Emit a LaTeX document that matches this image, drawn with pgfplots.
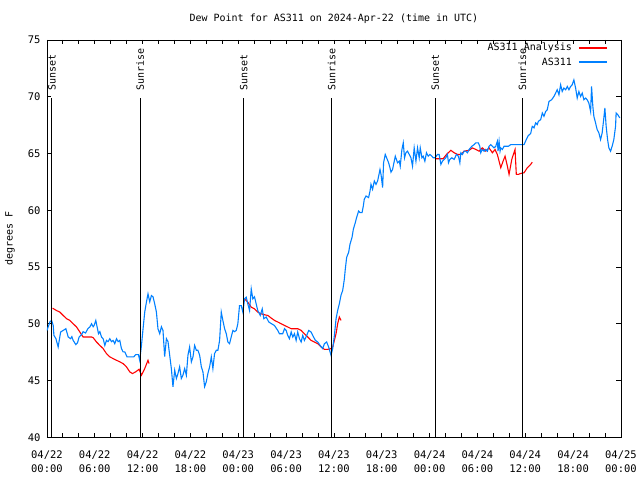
\documentclass[border=0pt]{standalone}
\usepackage{pgfplots}
\pgfplotsset{compat=1.18}
\usepackage{pgfplotstable}
\usepackage{fontspec}
\setmainfont{DejaVu Sans Mono}
\definecolor{gpblue}{RGB}{0,128,255}
\definecolor{gpred}{RGB}{255,0,0}

\pgfplotstableread{
h v
0.00 49.40
0.38 50.17
0.59 50.29
0.79 49.85
0.88 48.97
1.13 48.68
1.41 47.95
1.72 49.27
2.04 49.41
2.38 49.56
2.67 48.83
2.97 48.68
3.13 48.86
3.29 48.53
3.63 48.16
3.84 48.33
4.04 48.83
4.34 49.03
4.54 49.30
4.85 49.18
5.13 49.56
5.38 49.71
5.60 50.00
5.80 49.73
5.92 49.85
6.13 50.29
6.30 49.71
6.47 49.12
6.64 49.30
6.85 48.83
7.05 48.68
7.26 48.09
7.47 48.53
7.67 48.42
7.89 48.68
8.10 48.42
8.30 48.53
8.51 48.24
8.73 48.68
8.93 48.42
9.14 48.53
9.35 47.81
9.55 47.52
9.77 47.52
10.05 47.08
10.60 47.08
10.89 47.08
11.14 47.28
11.48 47.28
11.64 46.78
11.86 48.09
12.06 49.56
12.27 51.02
12.48 51.90
12.68 52.63
12.90 51.93
13.11 52.48
13.31 52.37
13.52 51.75
13.73 51.05
13.93 49.56
14.15 49.12
14.36 49.73
14.56 49.41
14.77 47.10
14.99 48.68
15.19 48.42
15.40 47.22
15.61 46.05
15.81 44.45
16.03 45.90
16.24 45.17
16.44 45.61
16.65 46.20
16.86 45.17
17.06 45.46
17.28 46.05
17.49 45.46
17.69 47.22
17.90 47.95
18.12 46.64
18.32 47.08
18.53 48.09
18.74 47.66
18.94 47.66
19.16 47.22
19.37 46.20
19.57 45.76
19.78 44.45
19.99 44.88
20.19 45.61
20.41 46.20
20.62 47.08
20.82 46.05
21.03 47.37
21.25 47.66
21.45 47.66
21.66 48.53
21.87 51.02
22.07 50.29
22.29 49.56
22.50 49.12
22.70 48.39
22.91 48.24
23.12 48.83
23.33 49.41
23.54 49.30
23.75 49.41
23.95 50.00
24.16 51.60
24.38 51.60
24.58 51.02
24.79 52.19
25.00 52.34
25.20 51.75
25.42 51.16
25.63 53.07
25.83 52.19
26.04 52.37
26.25 51.75
26.45 51.16
26.76 50.73
27.01 51.31
27.21 50.44
27.51 50.59
27.83 50.15
28.17 50.00
28.53 49.85
28.96 49.41
29.17 49.12
29.58 49.12
29.80 49.56
30.01 49.41
30.21 48.97
30.42 48.68
30.64 49.27
30.84 48.83
31.05 49.12
31.26 48.53
31.46 49.27
31.68 48.68
31.89 48.39
32.09 48.97
32.30 48.53
32.59 48.97
32.84 49.41
33.14 49.27
33.34 48.97
33.68 48.53
33.97 48.39
34.27 48.09
34.59 47.81
34.81 48.24
35.09 48.39
35.34 47.95
35.64 47.22
35.85 47.81
36.06 48.97
36.27 50.44
36.47 51.16
36.68 51.75
36.90 52.54
37.10 52.92
37.31 53.94
37.43 54.82
37.60 55.85
37.85 56.29
38.02 57.01
38.27 57.60
38.44 58.33
38.69 58.92
38.85 59.36
39.10 59.93
39.28 59.79
39.53 59.79
39.69 60.37
39.81 60.96
40.03 61.25
40.35 61.11
40.53 61.69
40.65 62.28
40.85 61.84
41.07 62.57
41.28 62.28
41.48 62.57
41.61 63.00
41.78 63.59
41.91 63.15
42.11 61.99
42.23 64.18
42.44 64.91
42.61 64.62
42.86 64.18
43.03 63.74
43.16 63.35
43.36 63.59
43.57 64.32
43.70 64.76
43.98 64.18
44.20 64.32
44.32 63.88
44.53 65.35
44.70 65.93
44.86 64.62
45.03 65.06
45.23 65.20
45.45 64.91
45.66 64.62
45.86 63.88
46.07 65.49
46.29 64.32
46.49 65.49
46.70 64.62
46.83 65.49
47.04 64.62
47.20 64.76
47.41 64.32
47.61 65.06
47.83 64.76
48.04 64.91
48.29 64.76
48.45 64.62
48.70 64.62
48.99 64.91
49.20 64.91
49.42 64.03
49.62 64.32
49.83 64.47
50.04 64.62
50.24 64.91
50.37 64.18
50.54 64.47
50.79 64.62
51.08 64.47
51.37 64.91
51.62 64.76
51.80 64.18
51.92 65.06
52.12 64.91
52.33 65.20
52.55 65.20
52.75 65.06
52.96 65.35
53.30 65.63
53.59 65.78
53.80 65.93
54.12 65.93
54.30 65.63
54.42 65.06
54.62 65.35
54.84 65.20
55.05 65.35
55.25 65.20
55.46 65.63
55.68 65.78
55.88 65.63
56.09 65.49
56.30 65.63
56.50 66.07
56.59 65.20
56.72 66.07
56.84 65.20
56.93 65.49
57.13 65.35
57.34 65.63
57.63 65.63
57.88 65.63
58.18 65.78
58.59 65.78
59.01 65.78
59.43 65.78
59.85 65.78
60.13 66.22
60.38 66.57
60.68 66.75
60.88 67.39
61.10 67.25
61.31 67.69
61.51 67.54
61.64 67.83
61.94 67.98
62.14 68.56
62.35 68.27
62.56 68.70
62.76 68.85
62.98 69.58
63.31 69.73
63.60 70.02
63.81 70.32
64.01 70.61
64.23 70.17
64.44 71.05
64.64 70.46
64.85 70.76
65.07 70.61
65.27 70.90
65.48 70.61
65.69 70.90
65.89 71.05
66.10 71.48
66.32 70.76
66.52 69.88
66.73 70.46
66.94 70.02
67.15 70.32
67.36 69.73
67.57 69.88
67.77 69.73
67.98 69.44
68.20 68.70
68.32 70.90
68.48 69.14
68.61 68.27
68.82 67.69
69.02 67.10
69.24 66.81
69.45 66.22
69.65 66.81
69.86 68.13
69.99 69.00
70.15 67.39
70.33 66.22
70.49 65.49
70.70 65.20
70.90 65.63
71.11 66.22
71.33 67.39
71.40 68.56
71.61 68.41
71.86 68.13
}\bluedata

\pgfplotstableread{
h v
0.71 51.37
1.21 51.16
1.63 51.02
2.04 50.73
2.47 50.44
2.88 50.29
3.29 50.00
3.72 49.71
4.13 49.27
4.54 48.83
4.97 48.83
5.60 48.83
5.80 48.77
6.22 48.39
6.64 48.09
7.05 47.81
7.47 47.37
7.89 47.08
8.30 46.93
8.73 46.78
9.14 46.64
9.55 46.49
9.98 46.20
10.39 45.76
10.73 45.61
11.14 45.76
11.56 45.99
11.86 45.46
12.27 46.05
12.68 46.78
12.81 46.49
18.00 nan
24.79 52.19
25.20 51.90
25.63 51.46
26.04 51.31
26.45 51.02
26.88 50.87
27.29 50.79
27.71 50.73
28.13 50.50
28.55 50.29
28.96 50.15
29.38 50.00
29.80 49.85
30.21 49.71
30.64 49.56
31.05 49.56
31.46 49.56
31.89 49.41
32.30 49.12
32.72 48.83
33.14 48.53
33.55 48.39
33.97 48.24
34.39 47.95
34.81 47.74
35.22 47.74
35.64 47.81
35.85 47.95
36.06 48.53
36.27 49.12
36.47 50.00
36.68 50.59
36.90 50.29
42.00 nan
48.70 64.53
49.20 64.53
49.70 64.53
50.12 64.91
50.67 65.28
51.08 65.06
51.50 64.91
51.92 64.91
52.33 65.20
52.96 65.28
53.37 65.49
53.80 65.35
54.21 65.20
54.62 65.49
55.05 65.20
55.46 65.49
55.88 65.06
56.21 65.35
56.50 64.91
56.72 64.32
56.93 63.74
57.22 64.32
57.47 64.76
57.76 63.88
57.97 63.15
58.31 64.47
58.51 64.91
58.72 65.35
58.88 63.15
59.13 63.15
59.43 63.24
59.85 63.30
60.26 63.74
60.68 64.03
60.88 64.23
}\reddata

\begin{document}
\begin{tikzpicture}[font=\fontsize{10}{12}\selectfont]
\begin{axis}[
  at={(0,0)}, anchor=south west,
  scale only axis, width=575pt, height=398pt,
  xmin=0, xmax=72, ymin=40, ymax=75,
  xtick={0,6,...,72},
  minor x tick num=2,
  xticklabels={{04/22\\00:00},{04/22\\06:00},{04/22\\12:00},{04/22\\18:00},{04/23\\00:00},{04/23\\06:00},{04/23\\12:00},{04/23\\18:00},{04/24\\00:00},{04/24\\06:00},{04/24\\12:00},{04/24\\18:00},{04/25\\00:00}},
  xticklabel style={align=center, font=\fontsize{10.5}{14}\selectfont, yshift=-10pt},
  ytick={40,45,...,75},
  yticklabel style={font=\fontsize{10.5}{12}\selectfont, xshift=-3pt},
  /pgf/number format/assume math mode=true,
  tick align=inside,
  major tick length=4.5pt, minor tick length=4.5pt,
  tick style={black, line width=0.8pt},
  axis line style={line width=0.8pt},
  title={Dew Point for AS311 on 2024-Apr-22 (time in UTC)},
  title style={at={(0.5,1)}, anchor=center, yshift=15pt},
  ylabel={degrees F},
  ylabel style={at={(axis description cs:-0.0643,0.5)}, anchor=center},
  unbounded coords=jump,
  clip=true,
]
\addplot[gpred, line width=1.1pt] table[x=h, y=v] {\reddata};
\addplot[gpblue, line width=1.1pt] table[x=h, y=v] {\bluedata};

\addplot[black, line width=1pt] coordinates {(0.63,40) (0.63,69.9)};
\addplot[black, line width=1pt] coordinates {(11.68,40) (11.68,69.9)};
\addplot[black, line width=1pt] coordinates {(24.70,40) (24.70,69.9)};
\addplot[black, line width=1pt] coordinates {(35.72,40) (35.72,69.9)};
\addplot[black, line width=1pt] coordinates {(48.70,40) (48.70,69.9)};
\addplot[black, line width=1pt] coordinates {(59.63,40) (59.63,69.9)};

\node[rotate=90, anchor=west, inner sep=0pt, xshift=1.5pt] at (axis cs:0.63,70.43) {Sunset};
\node[rotate=90, anchor=west, inner sep=0pt, xshift=1.5pt] at (axis cs:11.68,70.43) {Sunrise};
\node[rotate=90, anchor=west, inner sep=0pt, xshift=1.5pt] at (axis cs:24.70,70.43) {Sunset};
\node[rotate=90, anchor=west, inner sep=0pt, xshift=1.5pt] at (axis cs:35.72,70.43) {Sunrise};
\node[rotate=90, anchor=west, inner sep=0pt, xshift=1.5pt] at (axis cs:48.70,70.43) {Sunset};
\node[rotate=90, anchor=west, inner sep=0pt, xshift=1.5pt] at (axis cs:59.63,70.43) {Sunrise};

% legend keys
\addplot[gpred, line width=1.1pt] coordinates {(66.74,74.29) (70.25,74.29)};
\addplot[gpblue, line width=1.1pt] coordinates {(66.74,73.06) (70.25,73.06)};
\node[anchor=east, inner sep=0pt] at (axis cs:65.87,74.29) {AS311 Analysis};
\node[anchor=east, inner sep=0pt] at (axis cs:65.87,73.06) {AS311};
\end{axis}
\path[use as bounding box] (-47pt,-42pt) rectangle (593pt,438pt);
\end{tikzpicture}
\end{document}
